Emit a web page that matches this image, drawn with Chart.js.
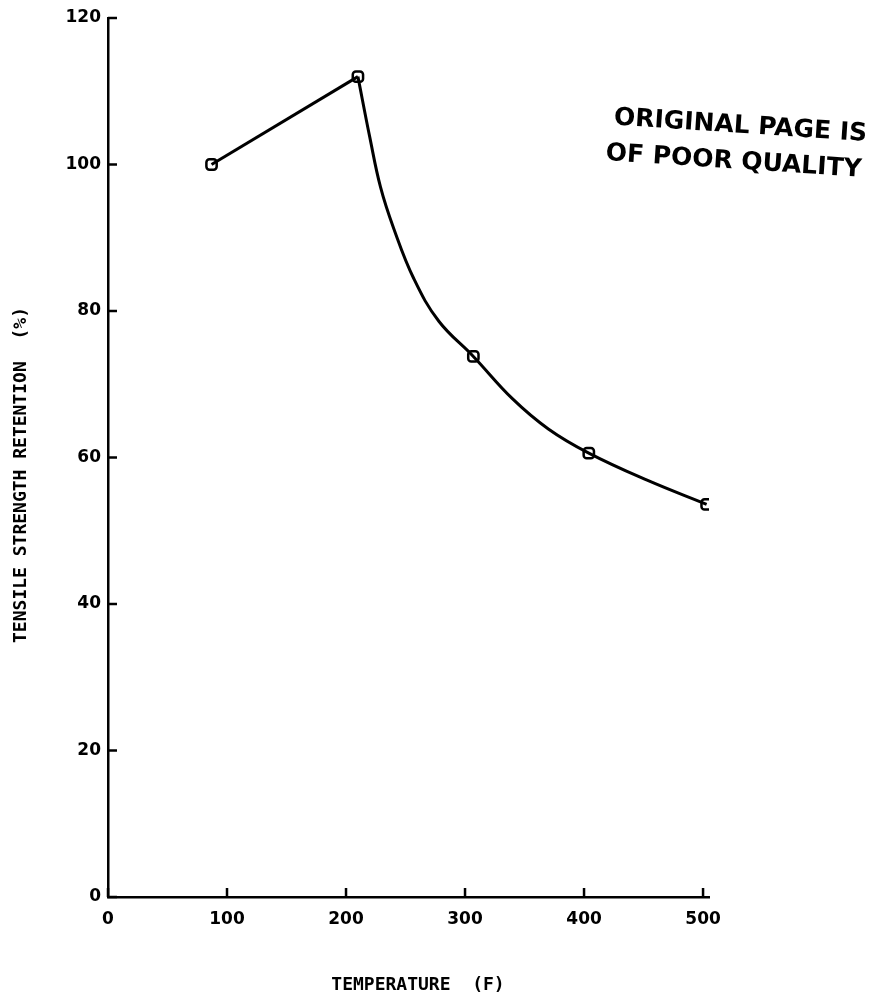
<!DOCTYPE html>
<html>
<head>
<meta charset="utf-8">
<script src="https://cdn.jsdelivr.net/npm/chart.js@4"></script>
<style>
  html, body { margin: 0; padding: 0; background: #fff; }
  #wrap { width: 882px; height: 1003px; position: relative; }
</style>
</head>
<body>
<div id="wrap"><canvas id="retentionChart"></canvas></div>
<script>
// measured points (temperature F, retention %)
const measuredTemps = [87, 210, 307, 404, 503];
const measuredRetention = [100, 112, 73.8, 60.6, 53.6];

// hand-drawn fit curve above 210 F
const curveTemps = [210, 220, 229, 240, 257, 278, 307, 340, 370, 404, 453, 503];
const curveRetention = [112, 103.7, 96.9, 91.3, 84.4, 78.6, 73.8, 68.0, 63.9, 60.6, 56.9, 53.6];

const xTicks = [0, 100, 200, 300, 400, 500];
const yTicks = [0, 20, 40, 60, 80, 100, 120];

const xTitle = "TEMPERATURE  (F)";
const yTitle = "TENSILE STRENGTH RETENTION  (%)";
const stampLines = ["ORIGINAL PAGE IS", "OF POOR QUALITY"];

const toPoints = (xs, ys) => xs.map((x, i) => ({ x, y: ys[i] }));

const tickFont = { family: "DejaVu Sans", size: 17, weight: "bold" };

// tick marks point into the plot, like the original
const innerTicks = {
  id: "innerTicks",
  afterDraw(chart) {
    const { ctx, scales: { x, y } } = chart;
    ctx.save();
    ctx.strokeStyle = "#000";
    ctx.lineWidth = 2.5;
    yTicks.forEach((v) => {
      const py = y.getPixelForValue(v);
      ctx.beginPath();
      ctx.moveTo(x.left, py);
      ctx.lineTo(x.left + 9, py);
      ctx.stroke();
    });
    xTicks.forEach((v) => {
      const px = x.getPixelForValue(v);
      ctx.beginPath();
      ctx.moveTo(px, y.bottom);
      ctx.lineTo(px, y.bottom - 9);
      ctx.stroke();
    });
    ctx.restore();
  },
};

// axis titles (placed a bit off-centre like the scan) and the stamp
const annotations = {
  id: "annotations",
  afterDraw(chart) {
    const { ctx } = chart;
    ctx.save();
    ctx.fillStyle = "#000";
    ctx.textAlign = "center";
    ctx.textBaseline = "middle";
    ctx.font = "bold 18px 'DejaVu Sans Mono'";
    ctx.fillText(xTitle, 418, 985);
    ctx.save();
    ctx.translate(21, 475);
    ctx.rotate(-Math.PI / 2);
    ctx.fillText(yTitle, 0, 0);
    ctx.restore();

    ctx.textAlign = "left";
    ctx.font = "bold 25px 'DejaVu Sans'";
    ctx.translate(614, 118);
    ctx.rotate(0.065);
    ctx.fillText(stampLines[0], 0, 0);
    ctx.fillText(stampLines[1], -6, 36);
    ctx.restore();
  },
};

new Chart(document.getElementById("retentionChart"), {
  type: "scatter",
  data: {
    datasets: [
      {
        label: "low",
        data: toPoints(measuredTemps.slice(0, 2), measuredRetention.slice(0, 2)),
        showLine: true,
        borderColor: "#000",
        borderWidth: 3,
        pointRadius: 0,
        tension: 0,
      },
      {
        label: "curve",
        data: toPoints(curveTemps, curveRetention),
        showLine: true,
        borderColor: "#000",
        borderWidth: 3,
        pointRadius: 0,
        tension: 0.4,
      },
      {
        label: "measured",
        data: toPoints(measuredTemps, measuredRetention),
        showLine: false,
        pointStyle: "rectRounded",
        pointRadius: 6,
        borderColor: "#000",
        borderWidth: 2.5,
        backgroundColor: "#fff",
      },
    ],
  },
  options: {
    responsive: true,
    maintainAspectRatio: false,
    animation: false,
    layout: { padding: { top: 18, right: 173, left: 0, bottom: 0 } },
    plugins: {
      legend: { display: false },
      tooltip: { enabled: false },
    },
    scales: {
      x: {
        type: "linear",
        min: 0,
        max: 505,
        afterBuildTicks: (axis) => {
          axis.ticks = xTicks.map((value) => ({ value }));
        },
        afterFit: (axis) => {
          axis.height = 106;
        },
        grid: { display: false, drawTicks: false },
        border: { color: "#000", width: 2.5 },
        ticks: {
          color: "#000",
          font: tickFont,
          padding: 12,
          maxRotation: 0,
          autoSkip: false,
        },
      },
      y: {
        min: 0,
        max: 120,
        afterBuildTicks: (axis) => {
          axis.ticks = yTicks.map((value) => ({ value }));
        },
        afterFit: (axis) => {
          axis.width = 108;
        },
        grid: { display: false, drawTicks: false },
        border: { color: "#000", width: 2.5 },
        ticks: {
          color: "#000",
          font: tickFont,
          padding: 7,
          autoSkip: false,
        },
      },
    },
  },
  plugins: [innerTicks, annotations],
});
</script>
</body>
</html>
